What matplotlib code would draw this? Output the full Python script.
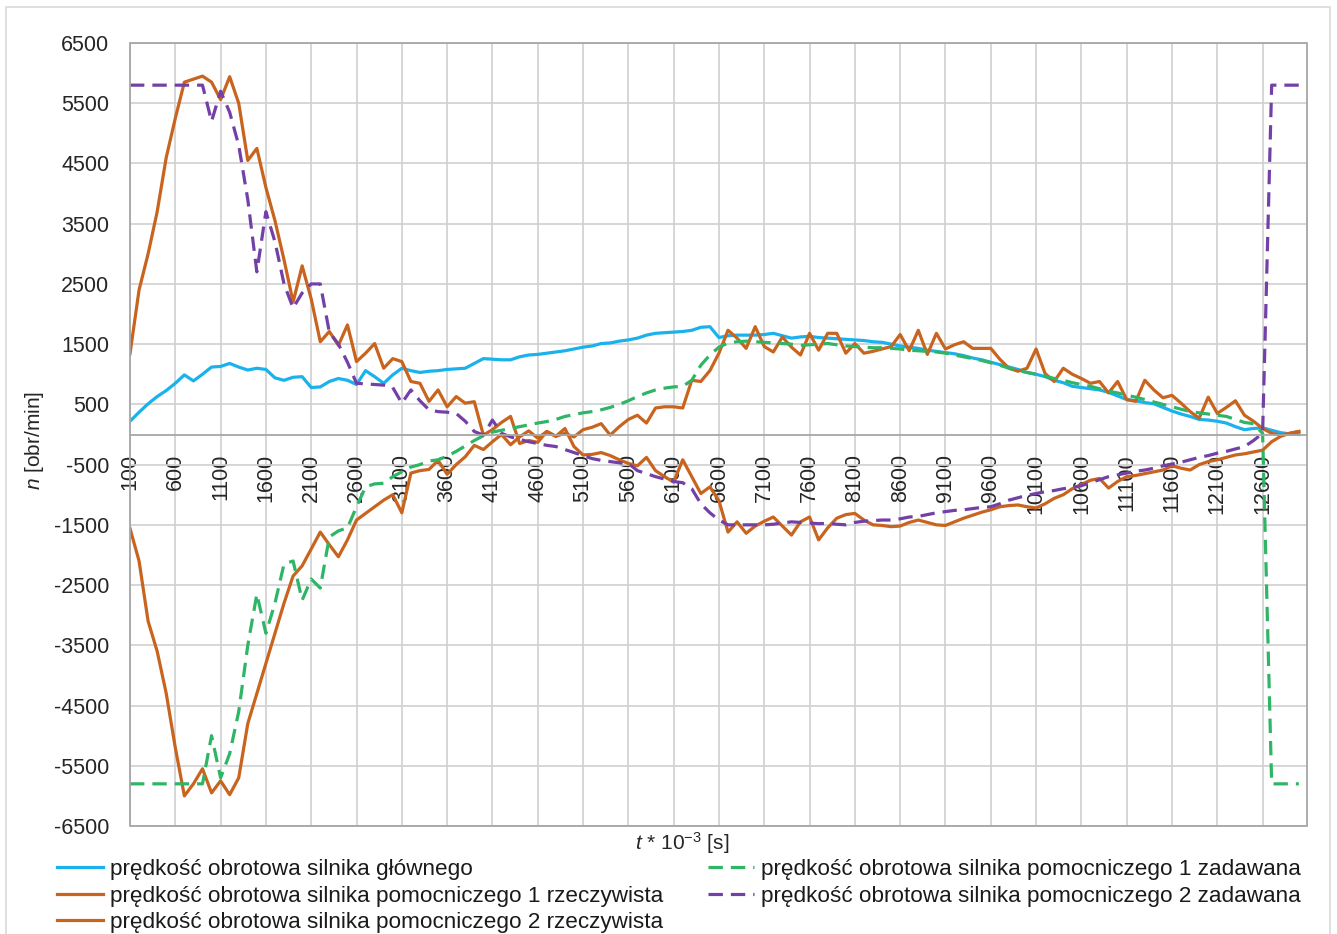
import matplotlib
matplotlib.use("Agg")
import matplotlib.pyplot as plt
from matplotlib.patches import Rectangle
import numpy as np

plt.rcParams['font.family'] = ['Liberation Sans', 'DejaVu Sans']
plt.rcParams['mathtext.fontset'] = 'custom'
plt.rcParams['mathtext.rm'] = 'Liberation Sans'
plt.rcParams['mathtext.it'] = 'Liberation Sans:italic'
plt.rcParams['axes.unicode_minus'] = False

# time axis (categories), t * 10^-3 s
t = np.arange(100, 13001, 100)

# main motor speed
main_motor = [220, 370, 510, 630, 730, 850, 990, 890, 1000, 1120,
              1130, 1180, 1120, 1070, 1100, 1080, 940, 900, 950, 960,
              780, 790, 880, 930, 900, 830, 1060, 960, 850, 990,
              1100, 1060, 1030, 1050, 1060, 1080, 1090, 1100, 1180, 1260,
              1250, 1240, 1240, 1290, 1320, 1330, 1350, 1370, 1390, 1420,
              1450, 1470, 1510, 1520, 1550, 1570, 1600, 1650, 1680, 1690,
              1700, 1710, 1730, 1780, 1790, 1610, 1640, 1650, 1650, 1650,
              1660, 1680, 1640, 1600, 1620, 1630, 1610, 1600, 1590, 1580,
              1570, 1560, 1540, 1530, 1500, 1470, 1450, 1430, 1400, 1380,
              1360, 1340, 1310, 1270, 1240, 1200, 1160, 1120, 1080, 1030,
              1000, 960, 900, 860, 800, 780, 760, 740, 700, 640,
              580, 560, 530, 510, 450, 390, 340, 300, 250, 240,
              220, 190, 130, 80, 100, 110, 70, 30, 10, 0]

# aux motor 1 - actual
aux1_real = [-1560, -2100, -3100, -3600, -4300, -5200, -6000, -5800, -5550, -5950,
             -5750, -5980, -5700, -4800, -4300, -3800, -3300, -2800, -2350, -2180,
             -1900, -1620, -1830, -2030, -1750, -1420, -1310, -1200, -1090, -1000,
             -1300, -640, -600, -580, -430, -660, -500, -370, -180, -250,
             -120, 0, -170, -40, 60, -60, 50, -30, 20, -40,
             80, 120, 180, -10, 130, 250, 320, 190, 440, 460,
             460, 440, 900, 880, 1060, 1350, 1730, 1600, 1430, 1790,
             1460, 1370, 1620, 1450, 1320, 1680, 1400, 1680, 1680, 1350,
             1510, 1350, 1380, 1420, 1460, 1660, 1390, 1730, 1330, 1680,
             1420, 1490, 1540, 1430, 1430, 1430, 1250, 1100, 1050, 1100,
             1420, 1010, 880, 1100, 1000, 930, 850, 880, 690, 880,
             580, 550, 900, 740, 610, 650, 520, 380, 270, 620,
             350, 450, 560, 320, 220, 100, 20, -10, 20, 50]

# aux motor 2 - actual
aux2_real = [1340, 2400, 3000, 3700, 4600, 5250, 5850, 5900, 5950, 5850,
             5560, 5940, 5500, 4550, 4750, 4100, 3550, 2900, 2200, 2800,
             2250, 1540, 1710, 1480, 1820, 1210, 1350, 1510, 1100, 1260,
             1210, 880, 850, 550, 740, 460, 630, 520, 545, -10,
             80, 200, 300, -150, -100, -130, 50, -30, 100, -200,
             -340, -330, -300, -350, -420, -480, -520, -380, -600, -700,
             -790, -420, -700, -980, -870, -1100, -1620, -1450, -1640, -1520,
             -1440, -1370, -1520, -1670, -1450, -1370, -1750, -1550, -1390, -1330,
             -1310, -1420, -1500, -1510, -1530, -1520, -1460, -1420, -1460, -1500,
             -1510, -1450, -1390, -1340, -1290, -1250, -1200, -1180, -1170, -1200,
             -1220, -1150, -1060, -1000, -900, -830, -760, -730, -890, -780,
             -700, -680, -650, -620, -590, -520, -560, -590, -500, -450,
             -420, -380, -340, -320, -290, -260, -120, -30, 20, 50]

# aux motor 1 - setpoint
aux1_set = [-5800, -5800, -5800, -5800, -5800, -5800, -5800, -5800, -5800, -5000,
            -5700, -5300, -4600, -3500, -2650, -3300, -2800, -2150, -2100, -2750,
            -2400, -2550, -1700, -1600, -1550, -1200, -870, -820, -810, -700,
            -620, -540, -500, -440, -420, -360, -280, -190, -100, -20,
            40, 70, 100, 130, 160, 190, 215, 250, 300, 330,
            360, 380, 410, 450, 500, 560, 630, 690, 740, 770,
            790, 800, 900, 1150, 1320, 1450, 1520, 1540, 1550, 1540,
            1530, 1520, 1510, 1500, 1480, 1490, 1500, 1510, 1490, 1470,
            1460, 1450, 1440, 1440, 1430, 1420, 1400, 1390, 1380, 1370,
            1350, 1320, 1290, 1260, 1230, 1190, 1150, 1100, 1060, 1030,
            1000, 970, 930, 900, 860, 830, 800, 760, 720, 690,
            650, 620, 580, 540, 500, 460, 420, 380, 360, 340,
            320, 300, 250, 200, 180, 20, -5800, -5800, -5800, -5800]

# aux motor 2 - setpoint
aux2_set = [5800, 5800, 5800, 5800, 5800, 5800, 5800, 5800, 5800, 5200,
            5700, 5350, 4800, 3900, 2700, 3700, 3200, 2500, 2100, 2350,
            2500, 2500, 1700, 1500, 1200, 850, 840, 830, 820, 780,
            520, 740, 560, 410, 380, 370, 350, 220, 50, -10,
            240, 20, -40, -80, -120, -150, -180, -200, -250, -300,
            -350, -400, -430, -450, -470, -480, -600, -650, -700, -740,
            -780, -800, -900, -1150, -1300, -1420, -1500, -1500, -1500, -1500,
            -1500, -1490, -1470, -1450, -1460, -1470, -1480, -1475, -1490, -1500,
            -1460, -1440, -1430, -1420, -1420, -1400, -1370, -1360, -1330, -1300,
            -1280, -1260, -1250, -1230, -1210, -1200, -1150, -1090, -1050, -1010,
            -980, -950, -930, -900, -880, -850, -800, -750, -700, -670,
            -640, -610, -590, -560, -520, -490, -460, -420, -380, -350,
            -310, -280, -240, -200, -100, 20, 5800, 5800, 5800, 5800]

labels = ['prędkość obrotowa silnika głównego',
          'prędkość obrotowa silnika pomocniczego 1 rzeczywista',
          'prędkość obrotowa silnika pomocniczego 2 rzeczywista',
          'prędkość obrotowa silnika pomocniczego 1 zadawana',
          'prędkość obrotowa silnika pomocniczego 2 zadawana']

blue = '#1AB2EC'
orange = '#C8641E'
green = '#2EB565'
purple = '#7340A8'
dash = (0, (4.5, 2.5))

fig = plt.figure(figsize=(13.37, 9.34), dpi=100)
ax = fig.add_axes([130/1337, 1 - 826/934, (1307 - 130)/1337, (826 - 43)/934])

# category axis crosses at 0 (do this before setting ticks, it resets them)
for s in ['top', 'right', 'left']:
    ax.spines[s].set_visible(False)
ax.spines['bottom'].set_position(('data', 0))
ax.spines['bottom'].set_color('#a6a6a6')
ax.spines['bottom'].set_linewidth(1.3)

l1, = ax.plot(t, main_motor, color=blue, lw=2.3)
l2, = ax.plot(t, aux1_real, color=orange, lw=2.3)
l3, = ax.plot(t, aux2_real, color=orange, lw=2.3)
l4, = ax.plot(t, aux1_set, color=green, lw=2.3, ls=dash)
l5, = ax.plot(t, aux2_set, color=purple, lw=2.3, ls=dash)

ax.set_xlim(100, 13090)
ax.set_ylim(-6500, 6500)
ax.set_yticks(np.arange(-6500, 6501, 1000))
ax.set_xticks(t[::5])
ax.tick_params(axis='y', labelsize=15.5, colors='#262626', length=0, pad=15)
ax.tick_params(axis='x', length=0, pad=14, colors='#262626')
ax.set_xticklabels([str(v) for v in t[::5]], rotation=90, fontsize=15.5,
                   color='#262626', va='top')
ax.grid(True, color='#d0d0d0', lw=1.2)
ax.set_axisbelow(True)

ax.add_patch(Rectangle((0, 0), 1, 1, transform=ax.transAxes, fill=False,
                       ec='#a6a6a6', lw=1.3, clip_on=False, zorder=5))

fig.text(35/1337, 1 - 440/934, r'$\it{n}$ [obr/min]', rotation=90,
         ha='center', va='center', fontsize=15, color='#262626')
fig.text(682/1337, 1 - 843/934, r'$\it{t}$ * 10$^{-3}$ [s]',
         ha='center', va='center', fontsize=15, color='#262626')

fig.legend([l1, l2, l3, l4, l5], labels, ncol=2, loc='upper left',
           bbox_to_anchor=(57/1337, 1 - 859/934), frameon=False,
           fontsize=16.2, handlelength=2.05, handletextpad=0.3,
           columnspacing=2.0, labelspacing=0.25, borderpad=0, borderaxespad=0,
           labelcolor='#1a1a1a')

fig.add_artist(Rectangle((6/1337, -0.01), (1330 - 6)/1337, 1.01 - 7/934,
                         transform=fig.transFigure, fill=False, ec='#d9d9d9', lw=1.2))

fig.savefig('out.png', dpi=100)
